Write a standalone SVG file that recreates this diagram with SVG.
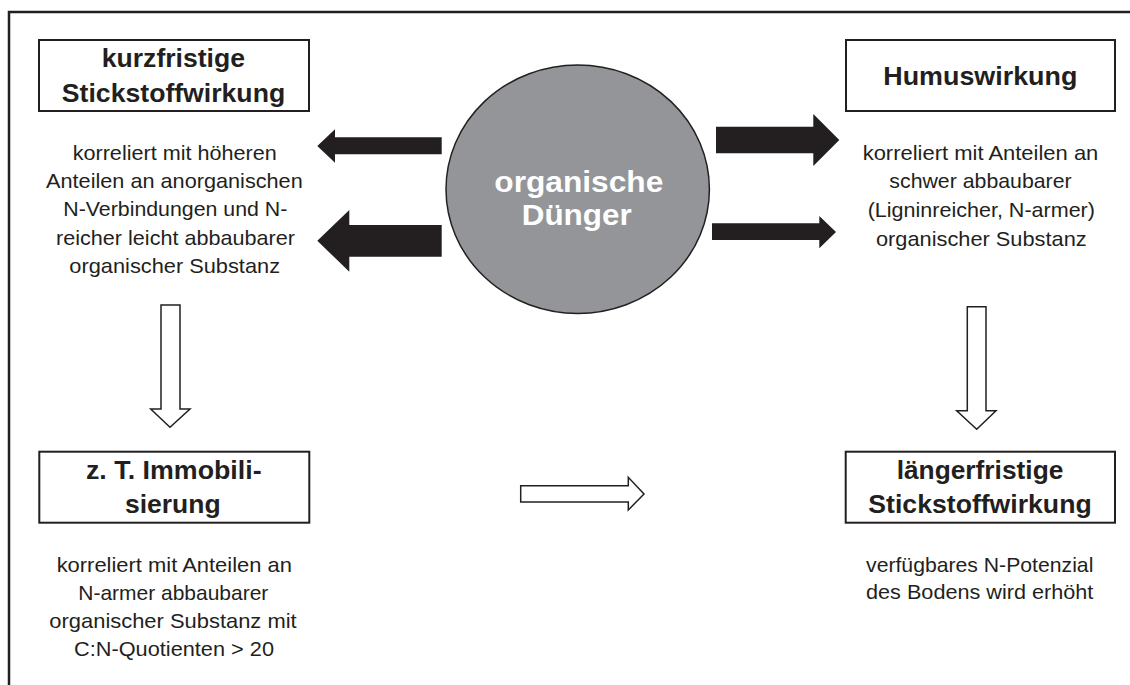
<svg xmlns="http://www.w3.org/2000/svg" width="1130" height="685" viewBox="0 0 1130 685">
<style>
.box{fill:#fff;stroke:#231f20;stroke-width:2}
.title{font-family:"Liberation Sans",Arial,sans-serif;font-weight:bold;font-size:25.5px;fill:#231f20;text-anchor:middle}
.body{font-family:"Liberation Sans",Arial,sans-serif;font-size:21px;fill:#231f20;text-anchor:middle}
.ctext{font-family:"Liberation Sans",Arial,sans-serif;font-weight:bold;font-size:29px;fill:#fff;text-anchor:middle}
.solid{fill:#231f20;stroke:none}
.hollow{fill:#fff;stroke:#231f20;stroke-width:1.5;stroke-linejoin:miter}
</style>
<rect width="1130" height="685" fill="#fff"/>
<path d="M9,685 V12 H1130" fill="none" stroke="#231f20" stroke-width="2.5"/>

<g id="node-kurzfristig">
<rect class="box" x="39" y="40" width="270" height="71"/>
<text class="title" x="173.4" y="66.7" textLength="143.3" lengthAdjust="spacingAndGlyphs">kurzfristige</text>
<text class="title" x="173.5" y="101.7" textLength="223.3" lengthAdjust="spacingAndGlyphs">Stickstoffwirkung</text>
<text class="body" x="174.7" y="160" textLength="204" lengthAdjust="spacingAndGlyphs">korreliert mit höheren</text>
<text class="body" x="174.4" y="188.3" textLength="256.7" lengthAdjust="spacingAndGlyphs">Anteilen an anorganischen</text>
<text class="body" x="175.3" y="216" textLength="224" lengthAdjust="spacingAndGlyphs">N-Verbindungen und N-</text>
<text class="body" x="175.5" y="245" textLength="239" lengthAdjust="spacingAndGlyphs">reicher leicht abbaubarer</text>
<text class="body" x="174.7" y="273.3" textLength="210.7" lengthAdjust="spacingAndGlyphs">organischer Substanz</text>
</g>

<g id="node-humus">
<rect class="box" x="846" y="40" width="269" height="71"/>
<text class="title" x="980.3" y="85" textLength="194" lengthAdjust="spacingAndGlyphs">Humuswirkung</text>
<text class="body" x="980.5" y="160" textLength="235.7" lengthAdjust="spacingAndGlyphs">korreliert mit Anteilen an</text>
<text class="body" x="980.5" y="188.3" textLength="182.3" lengthAdjust="spacingAndGlyphs">schwer abbaubarer</text>
<text class="body" x="981.3" y="217" textLength="227.3" lengthAdjust="spacingAndGlyphs">(Ligninreicher, N-armer)</text>
<text class="body" x="981.3" y="245.5" textLength="210.7" lengthAdjust="spacingAndGlyphs">organischer Substanz</text>
</g>

<g id="node-duenger">
<ellipse cx="577.7" cy="189.2" rx="131.7" ry="124.2" fill="#939598" stroke="#231f20" stroke-width="1.5"/>
<text class="ctext" x="578.8" y="191.7" textLength="169" lengthAdjust="spacingAndGlyphs">organische</text>
<text class="ctext" x="576.7" y="225" textLength="110" lengthAdjust="spacingAndGlyphs">Dünger</text>
</g>

<g id="node-immobilisierung">
<rect class="box" x="39.3" y="451.7" width="270" height="71"/>
<text class="title" x="173.8" y="479.3" textLength="175.7" lengthAdjust="spacingAndGlyphs">z. T. Immobili-</text>
<text class="title" x="172.8" y="512.7" textLength="95.7" lengthAdjust="spacingAndGlyphs">sierung</text>
<text class="body" x="174.3" y="571.7" textLength="235.3" lengthAdjust="spacingAndGlyphs">korreliert mit Anteilen an</text>
<text class="body" x="173.3" y="600" textLength="190" lengthAdjust="spacingAndGlyphs">N-armer abbaubarer</text>
<text class="body" x="173" y="628.3" textLength="247.3" lengthAdjust="spacingAndGlyphs">organischer Substanz mit</text>
<text class="body" x="174" y="656" textLength="200" lengthAdjust="spacingAndGlyphs">C:N-Quotienten &gt; 20</text>
</g>

<g id="node-laengerfristig">
<rect class="box" x="845.7" y="451.7" width="269.3" height="71"/>
<text class="title" x="980" y="479.3" textLength="166.7" lengthAdjust="spacingAndGlyphs">längerfristige</text>
<text class="title" x="980" y="512.7" textLength="223.3" lengthAdjust="spacingAndGlyphs">Stickstoffwirkung</text>
<text class="body" x="979.7" y="571.7" textLength="227.3" lengthAdjust="spacingAndGlyphs">verfügbares N-Potenzial</text>
<text class="body" x="979.7" y="599.3" textLength="227.3" lengthAdjust="spacingAndGlyphs">des Bodens wird erhöht</text>
</g>

<g id="connectors">
<polygon class="solid" points="441.7,137.3 335,137.3 335,129.3 317.3,146 335,162.7 335,154.3 441.7,154.3"/>
<polygon class="solid" points="441.7,225 349.3,225 349.3,210 317.3,240.8 349.3,271.7 349.3,256.7 441.7,256.7"/>
<polygon class="solid" points="716,126.7 813.3,126.7 813.3,114 839.3,140 813.3,166 813.3,153.3 716,153.3"/>
<polygon class="solid" points="712,223.3 819.3,223.3 819.3,216 836,232 819.3,248.3 819.3,240 712,240"/>
<polygon class="hollow" points="161,305 180,305 180,409 190,409 170,427.3 150.7,409 161,409"/>
<polygon class="hollow" points="967.3,306.7 986,306.7 986,410.7 996,410.7 976.7,429.3 956.7,410.7 967.3,410.7"/>
<polygon class="hollow" points="520.7,485.7 628.3,485.7 628.3,477.3 644,494 628.3,510 628.3,502 520.7,502"/>
</g>
</svg>
